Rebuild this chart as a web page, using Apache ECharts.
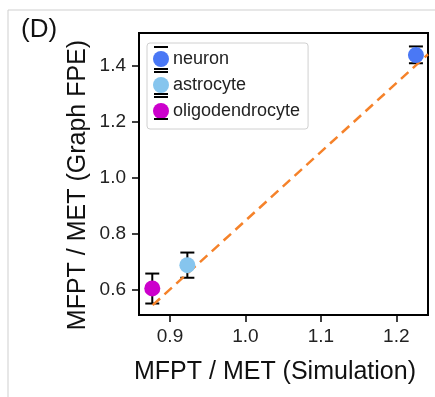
<!DOCTYPE html>
<html><head><meta charset="utf-8">
<script src="https://cdn.jsdelivr.net/npm/echarts@6/dist/echarts.min.js"></script>
<style>html,body{margin:0;padding:0;background:#fff}#c{width:435px;height:397px}</style>
</head><body><div id="c"></div>
<script>
var categories = ['neuron', 'astrocyte', 'oligodendrocyte'];
var colors = ['#4a78f5', '#86c5ee', '#cc00cc'];
var simX = [1.226, 0.923, 0.8765];
var fpeY = [1.439, 0.689, 0.606];
var errLow = [1.410, 0.644, 0.552];
var errHigh = [1.470, 0.734, 0.659];
var fitX = [0.877, 1.242];
var fitY = [0.546, 1.442];
var xTicks = [0.9, 1.0, 1.1, 1.2];
var yTicks = [0.6, 0.8, 1.0, 1.2, 1.4];

var FONT = 'Liberation Sans, Arial, sans-serif';
var chart = echarts.init(document.getElementById('c'), null, {renderer: 'canvas'});

var series = [];
// error bars
series.push({
  type: 'custom',
  z: 2,
  silent: true,
  data: simX.map(function (x, i) { return [x, errLow[i], errHigh[i]]; }),
  renderItem: function (params, api) {
    var lo = api.coord([api.value(0), api.value(1)]);
    var hi = api.coord([api.value(0), api.value(2)]);
    var hw = 7;
    var st = {stroke: '#000', lineWidth: 2};
    return {type: 'group', children: [
      {type: 'line', shape: {x1: lo[0], y1: lo[1], x2: hi[0], y2: hi[1]}, style: st},
      {type: 'line', shape: {x1: lo[0] - hw, y1: lo[1], x2: lo[0] + hw, y2: lo[1]}, style: st},
      {type: 'line', shape: {x1: hi[0] - hw, y1: hi[1], x2: hi[0] + hw, y2: hi[1]}, style: st}
    ]};
  }
});
// fit line
series.push({
  type: 'line',
  z: 3,
  silent: true,
  symbol: 'none',
  data: fitX.map(function (x, i) { return [x, fitY[i]]; }),
  lineStyle: {color: '#f5822a', width: 2.5, type: [10, 6]}
});
categories.forEach(function (name, i) {
  series.push({
    type: 'scatter',
    name: name,
    z: 4,
    symbol: 'circle',
    symbolSize: 16,
    itemStyle: {color: colors[i], opacity: 1},
    data: [[simX[i], fpeY[i]]]
  });
});

// decorative error-bar caps in legend handles
var legendCaps = [];
[58, 83, 108].forEach(function (cy) {
  [-11, 11].forEach(function (d) {
    legendCaps.push({type: 'line', z: 90, silent: true,
      shape: {x1: 154, y1: cy + d, x2: 168, y2: cy + d},
      style: {stroke: '#000', lineWidth: 2}});
  });
});

var option = {
  animation: false,
  backgroundColor: '#fff',
  grid: {left: 139, right: 7, top: 33, bottom: 82, show: true, borderColor: '#000', borderWidth: 2, backgroundColor: 'transparent'},
  xAxis: {
    type: 'value', min: 0.8589, max: 1.242,
    axisLine: {show: false},
    splitLine: {show: false},
    axisTick: {show: true, length: 7, lineStyle: {color: '#000', width: 1.5}, customValues: xTicks},
    axisLabel: {customValues: xTicks, color: '#222', fontSize: 19, fontFamily: FONT, margin: 12,
      formatter: function (v) { return Number(v).toFixed(1); }}
  },
  yAxis: {
    type: 'value', min: 0.511, max: 1.518,
    axisLine: {show: false},
    splitLine: {show: false},
    axisTick: {show: true, length: 7, lineStyle: {color: '#000', width: 1.5}, customValues: yTicks},
    axisLabel: {customValues: yTicks, color: '#222', fontSize: 19, fontFamily: FONT, margin: 13,
      formatter: function (v) { return Number(v).toFixed(1); }}
  },
  legend: {
    orient: 'vertical', left: 147, top: 43,
    data: categories,
    icon: 'circle', itemWidth: 16, itemHeight: 16, itemGap: 8,
    padding: [7, 8, 9, 6],
    borderColor: '#d0d0d0', borderWidth: 1, borderRadius: 3,
    textStyle: {fontSize: 18, fontFamily: FONT, color: '#222', padding: [0, 0, 0, -1]},
    selectedMode: false
  },
  graphic: [
    {type: 'line', shape: {x1: 8, y1: 10, x2: 435, y2: 10}, style: {stroke: '#cfcfcf', lineWidth: 1}, silent: true},
    {type: 'line', shape: {x1: 8, y1: 10, x2: 8, y2: 397}, style: {stroke: '#cfcfcf', lineWidth: 1}, silent: true},
    {type: 'text', left: 21, top: 17, style: {text: '(D)', font: '26px ' + FONT, fill: '#111'}, silent: true},
    {type: 'text', x: 275, y: 372, style: {text: 'MFPT / MET (Simulation)', font: '25px ' + FONT, fill: '#111', align: 'center', verticalAlign: 'middle'}, silent: true},
    {type: 'text', x: 78, y: 185, rotation: Math.PI / 2, style: {text: 'MFPT / MET (Graph FPE)', font: '25px ' + FONT, fill: '#111', align: 'center', verticalAlign: 'middle'}, silent: true}
  ].concat(legendCaps),
  series: series
};
chart.setOption(option);
</script>
</body></html>
